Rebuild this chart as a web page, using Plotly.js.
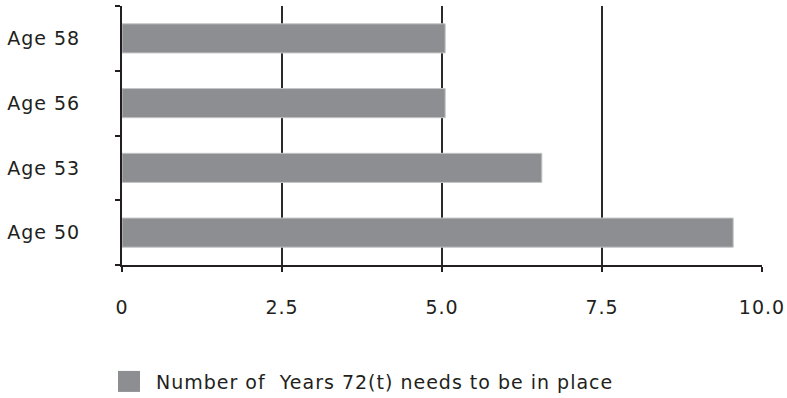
<!DOCTYPE html>
<html>
<head>
<meta charset="utf-8">
<script src="https://cdn.plot.ly/plotly-3.0.1.min.js"></script>
<style>
html,body{margin:0;padding:0;background:#fff;}
#chart{width:787px;height:398px;}
#chart text{letter-spacing:1px;}
</style>
</head>
<body>
<div id="chart"></div>
<script>
const categories = ["Age 50", "Age 53", "Age 56", "Age 58"];
const years = [9.55, 6.56, 5.05, 5.05];
const seriesName = "Number of  Years 72(t) needs to be in place";
const xTickVals = [0, 2.5, 5, 7.5, 10];
const xTickText = ["0", "2.5", "5.0", "7.5", "10.0"];

const barColor = "#8d8e91";
const font = {family: "DejaVu Sans, sans-serif", size: 19, color: "#231f20"};

const data = [{
  type: "bar",
  orientation: "h",
  y: categories,
  x: years,
  name: seriesName,
  width: 0.45,
  marker: {color: barColor, line: {color: "#c4c5c7", width: 1}},
  showlegend: false
}];

const layout = {
  width: 787, height: 398,
  margin: {l: 122, r: 25, t: 6, b: 133},
  paper_bgcolor: "#fff", plot_bgcolor: "#fff",
  font: font,
  showlegend: false,
  xaxis: {
    range: [0, 10], tickvals: xTickVals, ticktext: xTickText,
    showgrid: true, gridcolor: "#2b2b2b", gridwidth: 2,
    zeroline: false, showline: true, linecolor: "#231f20", linewidth: 2,
    ticks: "outside", ticklen: 5, tickwidth: 2, tickcolor: "#231f20",
    ticklabelstandoff: 19, tickfont: font, fixedrange: true
  },
  yaxis: {
    type: "category", categoryorder: "array", categoryarray: categories,
    tickson: "boundaries", showgrid: false, zeroline: false,
    showline: true, linecolor: "#231f20", linewidth: 2,
    ticks: "outside", ticklen: 5, tickwidth: 2, tickcolor: "#231f20",
    ticklabelstandoff: 36, tickfont: font, fixedrange: true
  },
  shapes: [{
    type: "rect", xref: "paper", yref: "paper",
    x0: -0.00625, x1: 0.028125, y0: -0.409, y1: -0.490,
    fillcolor: barColor, line: {width: 0}
  }],
  annotations: [{
    xref: "paper", yref: "paper", x: 0.05, y: -0.45,
    xanchor: "left", yanchor: "middle", align: "left", showarrow: false,
    text: seriesName, font: font
  }]
};

Plotly.newPlot("chart", data, layout, {displayModeBar: false, staticPlot: true});
</script>
</body>
</html>
